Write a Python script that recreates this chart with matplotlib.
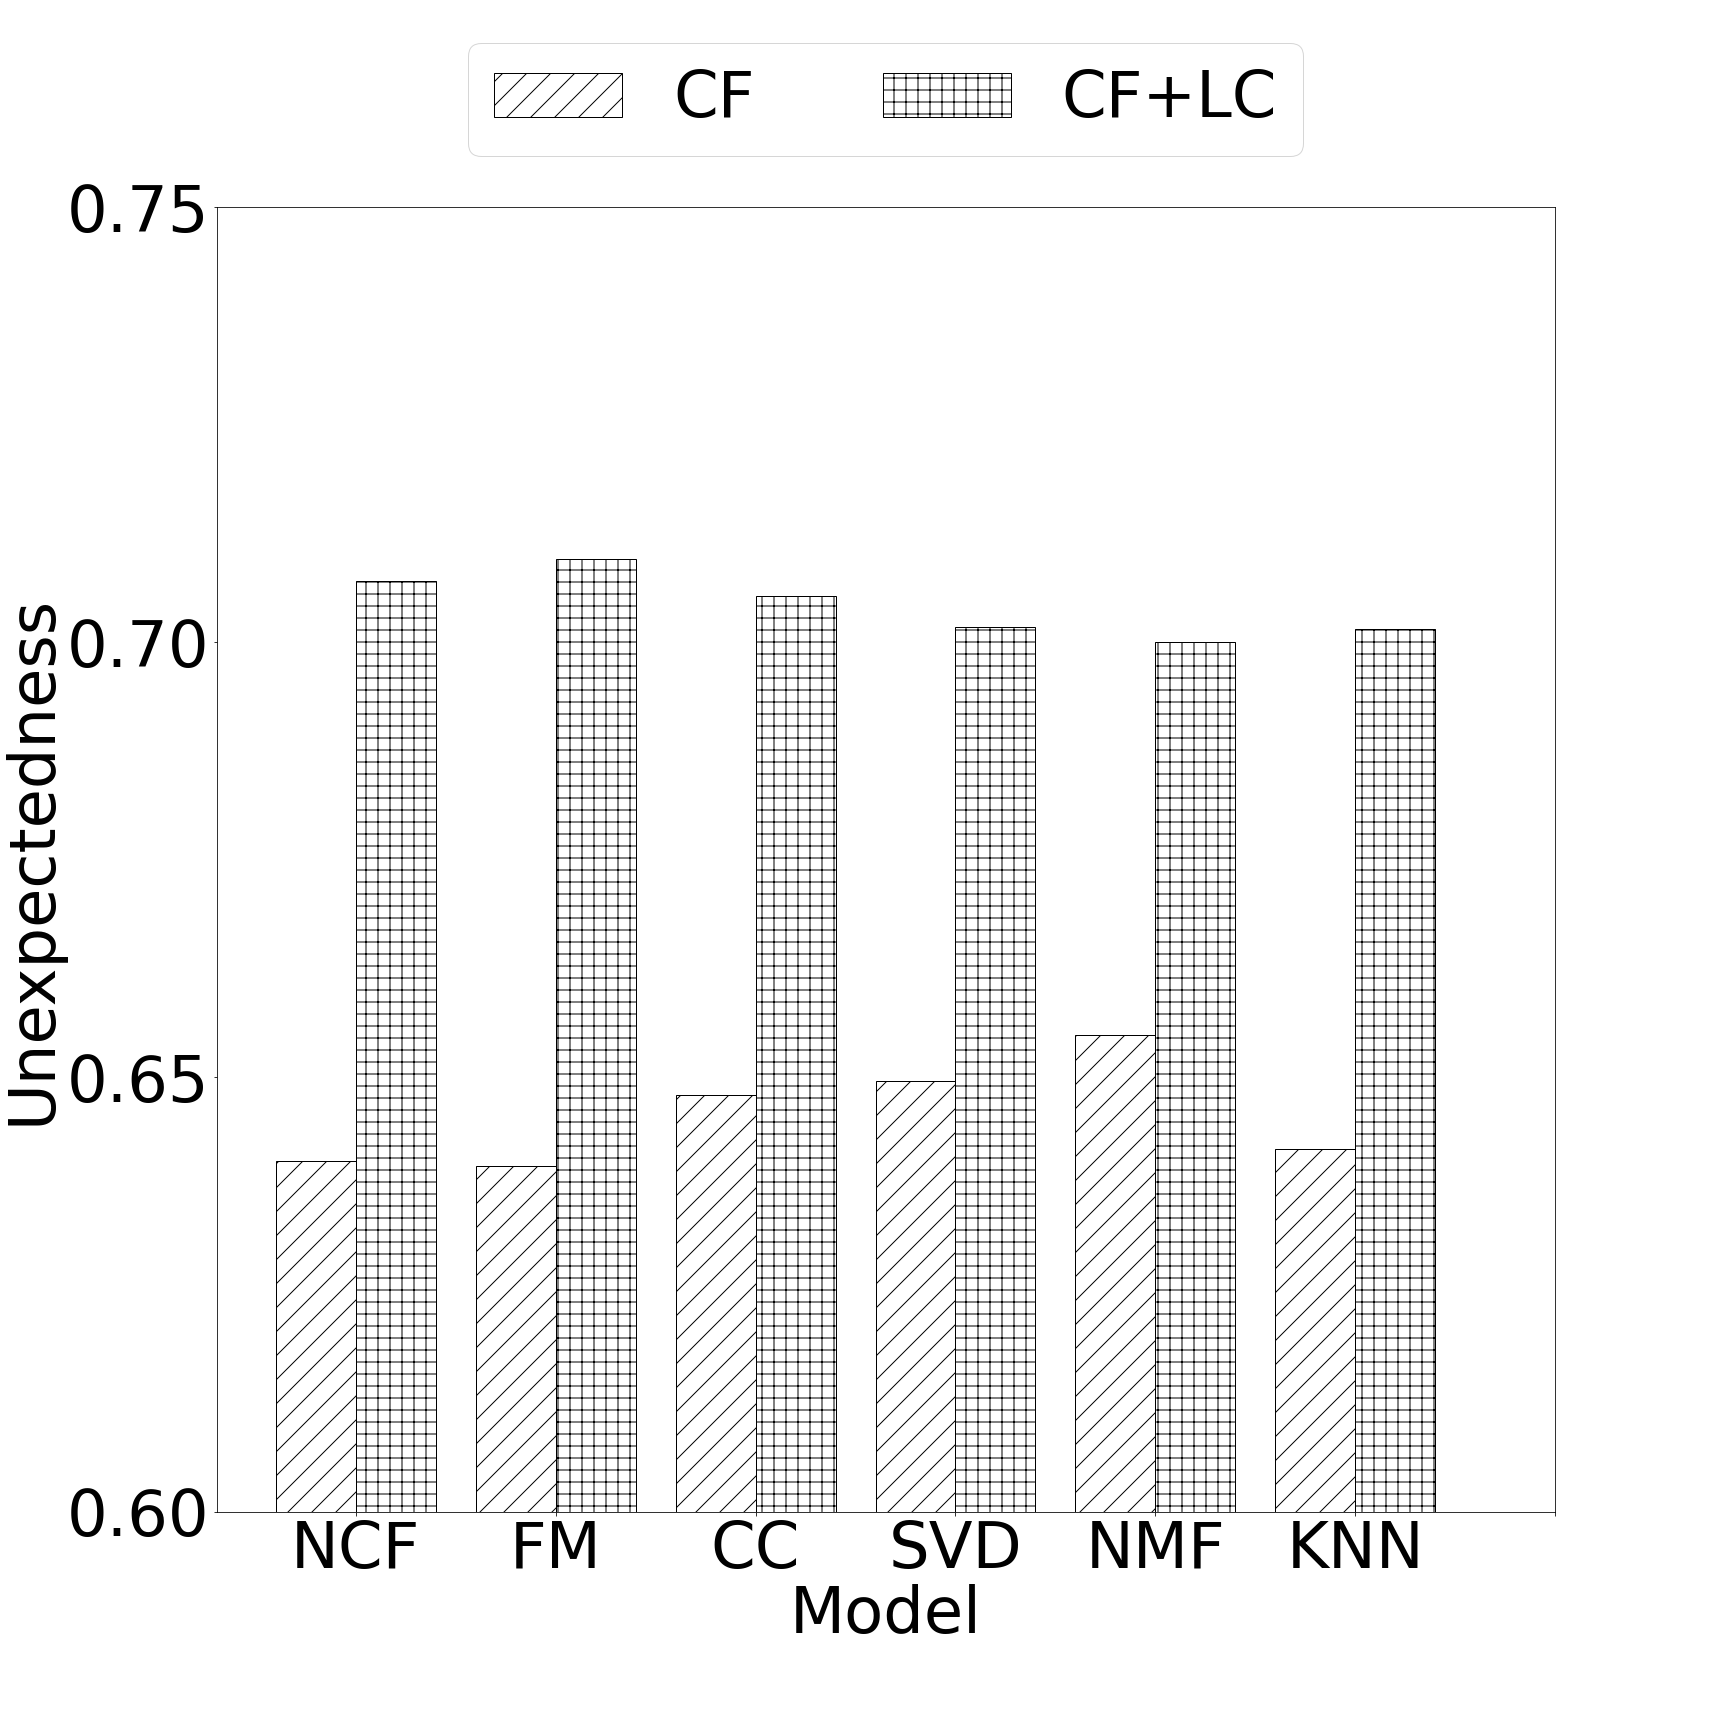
import numpy as np
import matplotlib
matplotlib.use("Agg")
import matplotlib.pyplot as plt

models = ["NCF", "FM", "CC", "SVD", "NMF", "KNN"]
cf = [0.6403, 0.6398, 0.6479, 0.6495, 0.6549, 0.6417]
cf_lc = [0.7070, 0.7096, 0.7053, 0.7017, 0.7000, 0.7015]
yticks = [0.60, 0.65, 0.70, 0.75]

fig = plt.figure(figsize=(24, 24), dpi=72)
ax = fig.add_axes([0.1255, 0.125, 0.7745, 0.755])

x = np.arange(len(models))
w = 0.4
ax.bar(x - w / 2, cf, w, color="white", edgecolor="black", hatch="/", label="CF")
ax.bar(x + w / 2, cf_lc, w, color="white", edgecolor="black", hatch="+", label="CF+LC")

ax.set_ylim(0.60, 0.75)
ax.set_yticks(yticks)
ax.set_yticklabels([f"{v:.2f}" for v in yticks], fontsize=64)
ax.set_xticks(list(x) + [len(models)])
ax.set_xticklabels(models + [""], fontsize=64)
ax.set_xlim(-0.695, 6.0)
ax.set_xlabel("Model", fontsize=64, labelpad=3)
ax.set_ylabel("Unexpectedness", fontsize=64)

fig.legend(loc="lower center", bbox_to_anchor=(0.5125, 0.9097), ncol=2,
           fontsize=64, borderaxespad=0)

fig.savefig("out.png", dpi=72)
